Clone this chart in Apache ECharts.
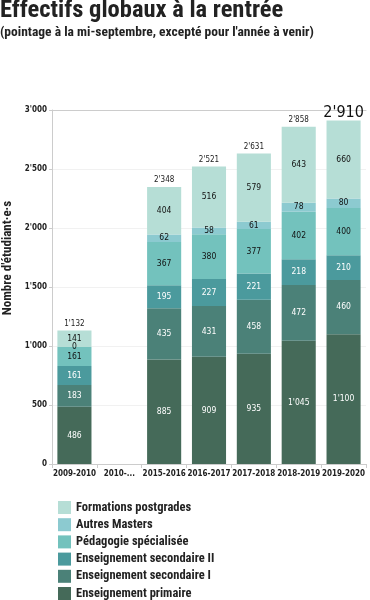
<!DOCTYPE html>
<html><head><meta charset="utf-8">
<script src="https://cdn.jsdelivr.net/npm/echarts@6/dist/echarts.min.js"></script>
<style>html,body{margin:0;padding:0;background:#fff}#c{width:370px;height:600px}</style>
</head><body><div id="c"></div>
<script>
const categories = ['2009-2010','2010-...','2015-2016','2016-2017','2017-2018','2018-2019','2019-2020'];
const primaire    = [486, null, 885, 909, 935, 1045, 1100];
const secondaireI = [183, null, 435, 431, 458, 472, 460];
const secondaireII= [161, null, 195, 227, 221, 218, 210];
const pedagogie   = [161, null, 367, 380, 377, 402, 400];
const masters     = [0,   null, 62,  58,  61,  78,  80];
const postgrades  = [141, null, 404, 516, 579, 643, 660];
const yTicks = [0, 500, 1000, 1500, 2000, 2500, 3000];

const COND = "'Roboto Condensed', sans-serif";
const DJC = "'DejaVu Sans Condensed', 'DejaVu Sans', sans-serif";
const fmt = v => String(v).replace(/\B(?=(\d{3})+(?!\d))/g, "'");
const seriesDef = [
  {name:'Enseignement primaire', data:primaire, color:'#456a59', lab:'#fff'},
  {name:'Enseignement secondaire I', data:secondaireI, color:'#4b8178', lab:'#fff'},
  {name:'Enseignement secondaire II', data:secondaireII, color:'#4b9a9d', lab:'#fff'},
  {name:'Pédagogie spécialisée', data:pedagogie, color:'#73c2bd', lab:'#111'},
  {name:'Autres Masters', data:masters, color:'#8ccad0', lab:'#111'},
  {name:'Formations postgrades', data:postgrades, color:'#b6ded6', lab:'#111'}
];
const totals = categories.map((c,i)=>{
  const vals = seriesDef.map(s=>s.data[i]);
  if (vals.every(v=>v===null)) return null;
  return vals.reduce((a,b)=>a+(b||0),0);
});
const lastIdx = totals.length-1;

const series = seriesDef.map(s=>({
  name:s.name, type:'bar', stack:'t', barWidth:'76%', data:s.data,
  itemStyle:{color:s.color},
  label:{show:true, position:'inside', color:s.lab, fontSize:8.5, fontFamily:DJC,
    formatter:p=>p.value==null?'':fmt(p.value)}
}));
series.push({
  name:'Total', type:'bar', stack:'t', barWidth:'76%',
  data: totals.map((t,i)=> t===null ? null : {value:0,
    label: i===lastIdx ? {fontSize:16, color:'#111', distance:0} : {}}),
  itemStyle:{color:'transparent'},
  label:{show:true, position:'top', distance:3, color:'#222', fontSize:8, fontFamily:DJC,
    formatter:p=> totals[p.dataIndex]==null?'':fmt(totals[p.dataIndex])}
});

const chart = echarts.init(document.getElementById('c'));
chart.setOption({
  animation:false,
  title:[
    {text:'Effectifs globaux à la rentrée', left:0, top:-2, padding:0,
     textStyle:{fontFamily:COND, fontWeight:'bold', fontSize:24.5, color:'#222'}},
    {text:"(pointage à la mi-septembre, excepté pour l'année à venir)", left:0, top:26, padding:0,
     textStyle:{fontFamily:COND, fontWeight:'bold', fontSize:13.5, color:'#222'}}
  ],
  legend:{
    orient:'vertical', left:58, top:501, padding:0, height:120, itemWidth:13, itemHeight:13, itemGap:4.2,
    data:['Formations postgrades','Autres Masters','Pédagogie spécialisée','Enseignement secondaire II','Enseignement secondaire I','Enseignement primaire'],
    icon:'rect',
    textStyle:{fontFamily:COND, fontWeight:'bold', fontSize:12.5, color:'#222'}
  },
  grid:{left:52, right:4, top:110, bottom:136, outerBoundsMode:'none', containLabel:false},
  xAxis:[{
    type:'category', data:categories,
    axisLine:{lineStyle:{color:'#ccc'}},
    axisTick:{show:true, length:4, lineStyle:{color:'#ccc'}},
    axisLabel:{color:'#222', fontSize:8, fontWeight:'bold', fontFamily:DJC, interval:0, margin:6}
  },{
    type:'category', data:categories, position:'top',
    axisLine:{show:true, lineStyle:{color:'#ccc'}}, axisTick:{show:false}, axisLabel:{show:false}
  }],
  yAxis:{
    type:'value', min:0, max:3000, interval:500,
    name:"Nombre d'étudiant·e·s", nameLocation:'middle', nameGap:37, nameRotate:90,
    nameTextStyle:{fontFamily:COND, fontWeight:'bold', fontSize:13, color:'#222', padding:[0,0,0,58]},
    axisLine:{show:true, lineStyle:{color:'#ccc'}},
    axisTick:{show:true, length:3, lineStyle:{color:'#ccc'}},
    splitLine:{lineStyle:{color:'#f1f1f1'}},
    axisLabel:{color:'#222', fontSize:8, fontWeight:'bold', fontFamily:DJC, margin:5,
      formatter:v=> yTicks.includes(v)?fmt(v):''}
  },
  series
});
</script></body></html>
